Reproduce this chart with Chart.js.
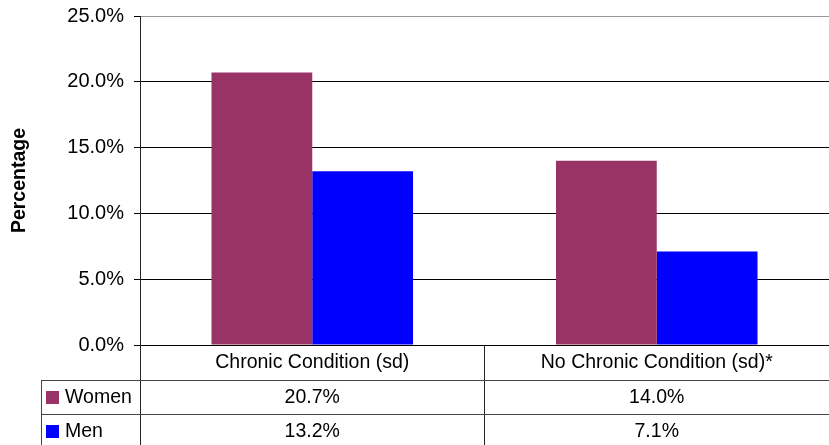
<!DOCTYPE html>
<html>
<head>
<meta charset="utf-8">
<script src="https://cdn.jsdelivr.net/npm/chart.js@4.4.1/dist/chart.umd.min.js"></script>
<style>
  html, body { margin: 0; padding: 0; background: #fff; }
  #wrap { width: 829px; height: 445px; }
</style>
</head>
<body>
<div id="wrap"><canvas id="chartCondicion" width="829" height="445"></canvas></div>
<script>
const categories = ['Chronic Condition (sd)', 'No Chronic Condition (sd)*'];
const seriesNames = ['Women', 'Men'];
const women = [20.7, 14.0];
const men = [13.2, 7.1];
const seriesColors = ['#993366', '#0000FF'];

Chart.defaults.font.family = "'Liberation Sans', Arial, sans-serif";
Chart.defaults.font.size = 20;
Chart.defaults.color = '#000';

// data table under the x axis: category row, then one row per series
const tablaDatos = {
    id: 'tablaDatos',
    afterDraw(chart) {
        const { ctx, chartArea, scales: { x } } = chart;
        const top = chartArea.bottom;
        const rowAxis = 35;
        const rowH = 34;
        const tableLeft = 41;
        const right = chart.width;

        ctx.save();
        ctx.strokeStyle = '#444';
        ctx.lineWidth = 1;
        ctx.beginPath();
        for (let r = 0; r < 2; r++) {
            const y = Math.round(top + rowAxis + r * rowH) + 0.5;
            ctx.moveTo(tableLeft, y);
            ctx.lineTo(right, y);
        }
        ctx.moveTo(tableLeft + 0.5, top + rowAxis);
        ctx.lineTo(tableLeft + 0.5, chart.height);
        ctx.stroke();

        ctx.fillStyle = '#000';
        ctx.font = "19.5px 'Liberation Sans', Arial, sans-serif";
        ctx.textAlign = 'center';
        ctx.textBaseline = 'middle';
        categories.forEach((c, i) => {
            ctx.fillText(c, x.getPixelForValue(i), top + rowAxis / 2);
        });

        chart.data.datasets.forEach((ds, d) => {
            const cy = top + rowAxis + d * rowH + rowH / 2 + 1;
            ctx.fillStyle = ds.backgroundColor;
            ctx.fillRect(46, cy - 7, 13, 13);
            ctx.fillStyle = '#000';
            ctx.textAlign = 'left';
            ctx.fillText(ds.label, 65, cy);
            ctx.textAlign = 'center';
            ds.data.forEach((v, i) => {
                ctx.fillText(v.toFixed(1) + '%', x.getPixelForValue(i), cy);
            });
        });
        ctx.restore();
    }
};

new Chart(document.getElementById('chartCondicion'), {
    type: 'bar',
    data: {
        labels: categories,
        datasets: [
            { label: seriesNames[0], data: women, backgroundColor: seriesColors[0] },
            { label: seriesNames[1], data: men, backgroundColor: seriesColors[1] }
        ]
    },
    options: {
        responsive: false,
        animation: false,
        layout: { padding: 0 },
        datasets: {
            bar: { categoryPercentage: 0.585, barPercentage: 1, borderWidth: 0 }
        },
        plugins: {
            legend: { display: false },
            tooltip: { enabled: false }
        },
        scales: {
            x: {
                afterFit: (scale) => { scale.height = 100; },
                ticks: { display: false },
                grid: {
                    offset: true,
                    drawOnChartArea: false,
                    drawTicks: true,
                    tickLength: 100,
                    color: '#222'
                },
                border: { color: '#000' }
            },
            y: {
                min: 0,
                max: 25,
                afterFit: (scale) => {
                    scale.width = 140;
                    scale.paddingTop = 16;
                },
                ticks: {
                    stepSize: 5,
                    padding: 10,
                    callback: (v) => v.toFixed(1) + '%'
                },
                grid: {
                    color: (c) => (c.tick && c.tick.value === 25 ? '#999' : '#000'),
                    tickLength: 6,
                    tickColor: '#000'
                },
                border: { color: '#222' },
                title: {
                    display: true,
                    text: 'Percentage',
                    font: { size: 19.5, weight: 'bold' },
                    padding: { top: 8, bottom: 0 }
                }
            }
        }
    },
    plugins: [tablaDatos]
});
</script>
</body>
</html>
